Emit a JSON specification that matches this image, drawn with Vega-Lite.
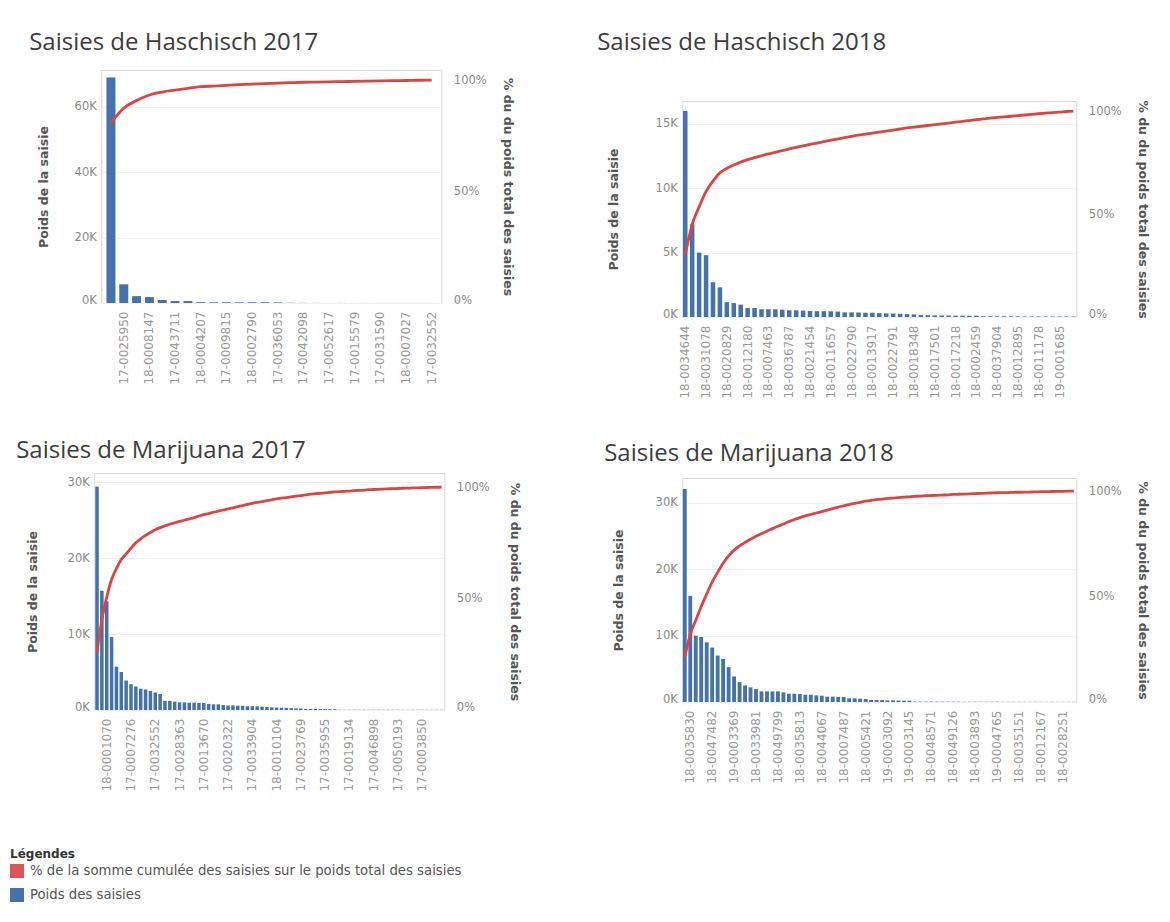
{
  "$schema": "https://vega.github.io/schema/vega-lite/v6.json",
  "background": "white",
  "padding": {"left": 10, "top": 29, "right": 10, "bottom": 10},
  "datasets": {
    "h17": [
      {"id":"H17-01","poids":69000,"pct":0.807},{"id":"17-0025950","poids":5700,"pct":0.874},{"id":"H17-03","poids":2100,"pct":0.908},{"id":"18-0008147","poids":1800,"pct":0.933},{"id":"H17-05","poids":900,"pct":0.946},{"id":"17-0043711","poids":600,"pct":0.955},{"id":"H17-07","poids":600,"pct":0.963},{"id":"18-0004207","poids":250,"pct":0.970},{"id":"H17-09","poids":200,"pct":0.973},{"id":"17-0009815","poids":200,"pct":0.976},{"id":"H17-11","poids":200,"pct":0.979},{"id":"18-0002790","poids":200,"pct":0.982},{"id":"H17-13","poids":200,"pct":0.984},{"id":"17-0036053","poids":180,"pct":0.986},{"id":"H17-15","poids":40,"pct":0.988},{"id":"17-0042098","poids":40,"pct":0.990},{"id":"H17-17","poids":30,"pct":0.991},{"id":"17-0052617","poids":30,"pct":0.992},{"id":"H17-19","poids":30,"pct":0.993},{"id":"17-0015579","poids":30,"pct":0.994},{"id":"H17-21","poids":20,"pct":0.995},{"id":"17-0031590","poids":20,"pct":0.996},{"id":"H17-23","poids":20,"pct":0.997},{"id":"18-0007027","poids":20,"pct":0.998},{"id":"H17-25","poids":20,"pct":0.999},{"id":"17-0032552","poids":20,"pct":1.0}
    ],
    "h18": [
      {"id":"18-0034644","poids":16000,"pct":0.303},{"id":"H18-02","poids":7200,"pct":0.450},{"id":"H18-03","poids":5000,"pct":0.535},{"id":"18-0031078","poids":4800,"pct":0.610},{"id":"H18-05","poids":2700,"pct":0.660},{"id":"H18-06","poids":2300,"pct":0.700},{"id":"18-0020829","poids":1150,"pct":0.722},{"id":"H18-08","poids":1080,"pct":0.738},{"id":"H18-09","poids":960,"pct":0.752},{"id":"18-0012180","poids":700,"pct":0.764},{"id":"H18-11","poids":700,"pct":0.774},{"id":"H18-12","poids":600,"pct":0.783},{"id":"18-0007463","poids":600,"pct":0.792},{"id":"H18-14","poids":600,"pct":0.800},{"id":"H18-15","poids":570,"pct":0.808},{"id":"18-0036787","poids":520,"pct":0.816},{"id":"H18-17","poids":520,"pct":0.824},{"id":"H18-18","poids":500,"pct":0.831},{"id":"18-0021454","poids":470,"pct":0.838},{"id":"H18-20","poids":450,"pct":0.845},{"id":"H18-21","poids":450,"pct":0.852},{"id":"18-0011657","poids":440,"pct":0.859},{"id":"H18-23","poids":420,"pct":0.865},{"id":"H18-24","poids":360,"pct":0.871},{"id":"18-0022790","poids":360,"pct":0.877},{"id":"H18-26","poids":350,"pct":0.883},{"id":"H18-27","poids":330,"pct":0.888},{"id":"18-0013917","poids":330,"pct":0.893},{"id":"H18-29","poids":300,"pct":0.898},{"id":"H18-30","poids":280,"pct":0.903},{"id":"18-0022791","poids":270,"pct":0.908},{"id":"H18-32","poids":250,"pct":0.913},{"id":"H18-33","poids":220,"pct":0.918},{"id":"18-0018348","poids":200,"pct":0.922},{"id":"H18-35","poids":150,"pct":0.926},{"id":"H18-36","poids":140,"pct":0.930},{"id":"18-0017501","poids":130,"pct":0.934},{"id":"H18-38","poids":120,"pct":0.938},{"id":"H18-39","poids":120,"pct":0.942},{"id":"18-0017218","poids":110,"pct":0.946},{"id":"H18-41","poids":100,"pct":0.950},{"id":"H18-42","poids":100,"pct":0.954},{"id":"18-0002459","poids":100,"pct":0.958},{"id":"H18-44","poids":60,"pct":0.962},{"id":"H18-45","poids":60,"pct":0.966},{"id":"18-0037904","poids":50,"pct":0.969},{"id":"H18-47","poids":50,"pct":0.972},{"id":"H18-48","poids":50,"pct":0.975},{"id":"18-0012895","poids":50,"pct":0.978},{"id":"H18-50","poids":40,"pct":0.981},{"id":"H18-51","poids":40,"pct":0.984},{"id":"18-0011178","poids":40,"pct":0.987},{"id":"H18-53","poids":40,"pct":0.990},{"id":"H18-54","poids":40,"pct":0.993},{"id":"19-0001685","poids":40,"pct":0.995},{"id":"H18-56","poids":40,"pct":0.998},{"id":"H18-57","poids":40,"pct":1.0}
    ],
    "m17": [
      {"id":"M17-01","poids":29400,"pct":0.260},{"id":"M17-02","poids":15700,"pct":0.405},{"id":"18-0001070","poids":14300,"pct":0.506},{"id":"M17-04","poids":9600,"pct":0.585},{"id":"M17-05","poids":5700,"pct":0.635},{"id":"M17-06","poids":5000,"pct":0.675},{"id":"M17-07","poids":3900,"pct":0.700},{"id":"17-0007276","poids":3400,"pct":0.726},{"id":"M17-09","poids":3100,"pct":0.750},{"id":"M17-10","poids":2800,"pct":0.768},{"id":"M17-11","poids":2700,"pct":0.783},{"id":"M17-12","poids":2500,"pct":0.796},{"id":"17-0032552","poids":2300,"pct":0.808},{"id":"M17-14","poids":2100,"pct":0.818},{"id":"M17-15","poids":1200,"pct":0.826},{"id":"M17-16","poids":1200,"pct":0.833},{"id":"M17-17","poids":1100,"pct":0.840},{"id":"17-0028363","poids":1000,"pct":0.846},{"id":"M17-19","poids":1000,"pct":0.851},{"id":"M17-20","poids":960,"pct":0.857},{"id":"M17-21","poids":960,"pct":0.863},{"id":"M17-22","poids":920,"pct":0.870},{"id":"17-0013670","poids":920,"pct":0.876},{"id":"M17-24","poids":800,"pct":0.881},{"id":"M17-25","poids":750,"pct":0.887},{"id":"M17-26","poids":750,"pct":0.892},{"id":"M17-27","poids":650,"pct":0.897},{"id":"17-0020322","poids":600,"pct":0.902},{"id":"M17-29","poids":600,"pct":0.907},{"id":"M17-30","poids":570,"pct":0.912},{"id":"M17-31","poids":550,"pct":0.917},{"id":"M17-32","poids":500,"pct":0.922},{"id":"17-0033904","poids":500,"pct":0.927},{"id":"M17-34","poids":480,"pct":0.931},{"id":"M17-35","poids":440,"pct":0.935},{"id":"M17-36","poids":400,"pct":0.939},{"id":"M17-37","poids":350,"pct":0.943},{"id":"18-0010104","poids":320,"pct":0.947},{"id":"M17-39","poids":300,"pct":0.950},{"id":"M17-40","poids":280,"pct":0.953},{"id":"M17-41","poids":250,"pct":0.956},{"id":"M17-42","poids":220,"pct":0.959},{"id":"17-0023769","poids":200,"pct":0.962},{"id":"M17-44","poids":150,"pct":0.965},{"id":"M17-45","poids":140,"pct":0.968},{"id":"M17-46","poids":130,"pct":0.970},{"id":"M17-47","poids":120,"pct":0.972},{"id":"17-0035955","poids":120,"pct":0.974},{"id":"M17-49","poids":110,"pct":0.976},{"id":"M17-50","poids":100,"pct":0.978},{"id":"M17-51","poids":30,"pct":0.979},{"id":"M17-52","poids":30,"pct":0.981},{"id":"17-0019134","poids":30,"pct":0.982},{"id":"M17-54","poids":30,"pct":0.984},{"id":"M17-55","poids":30,"pct":0.985},{"id":"M17-56","poids":30,"pct":0.986},{"id":"M17-57","poids":30,"pct":0.988},{"id":"17-0046898","poids":30,"pct":0.989},{"id":"M17-59","poids":30,"pct":0.990},{"id":"M17-60","poids":30,"pct":0.991},{"id":"M17-61","poids":30,"pct":0.992},{"id":"M17-62","poids":30,"pct":0.993},{"id":"17-0050193","poids":30,"pct":0.9935},{"id":"M17-64","poids":30,"pct":0.9945},{"id":"M17-65","poids":30,"pct":0.995},{"id":"M17-66","poids":30,"pct":0.996},{"id":"M17-67","poids":30,"pct":0.9965},{"id":"17-0003850","poids":30,"pct":0.997},{"id":"M17-69","poids":30,"pct":0.998},{"id":"M17-70","poids":30,"pct":0.9985},{"id":"M17-71","poids":30,"pct":0.999},{"id":"M17-72","poids":30,"pct":1.0}
    ],
    "m18": [
      {"id":"M18-01","poids":32100,"pct":0.213},{"id":"18-0035830","poids":16000,"pct":0.320},{"id":"M18-03","poids":10000,"pct":0.388},{"id":"M18-04","poids":9800,"pct":0.453},{"id":"M18-05","poids":9000,"pct":0.512},{"id":"18-0047482","poids":8200,"pct":0.568},{"id":"M18-07","poids":7000,"pct":0.615},{"id":"M18-08","poids":6500,"pct":0.658},{"id":"M18-09","poids":5250,"pct":0.693},{"id":"19-0003369","poids":3850,"pct":0.720},{"id":"M18-11","poids":3000,"pct":0.740},{"id":"M18-12","poids":2500,"pct":0.757},{"id":"M18-13","poids":2200,"pct":0.772},{"id":"18-0033981","poids":1950,"pct":0.786},{"id":"M18-15","poids":1600,"pct":0.798},{"id":"M18-16","poids":1600,"pct":0.810},{"id":"M18-17","poids":1600,"pct":0.822},{"id":"18-0049799","poids":1600,"pct":0.833},{"id":"M18-19","poids":1450,"pct":0.844},{"id":"M18-20","poids":1250,"pct":0.855},{"id":"M18-21","poids":1250,"pct":0.865},{"id":"18-0035813","poids":1200,"pct":0.874},{"id":"M18-23","poids":1100,"pct":0.882},{"id":"M18-24","poids":1100,"pct":0.889},{"id":"M18-25","poids":1000,"pct":0.896},{"id":"18-0044067","poids":950,"pct":0.903},{"id":"M18-27","poids":800,"pct":0.910},{"id":"M18-28","poids":800,"pct":0.917},{"id":"M18-29","poids":750,"pct":0.924},{"id":"18-0007487","poids":750,"pct":0.930},{"id":"M18-31","poids":550,"pct":0.936},{"id":"M18-32","poids":550,"pct":0.942},{"id":"M18-33","poids":500,"pct":0.947},{"id":"18-0005421","poids":450,"pct":0.952},{"id":"M18-35","poids":300,"pct":0.956},{"id":"M18-36","poids":300,"pct":0.959},{"id":"M18-37","poids":280,"pct":0.962},{"id":"19-0003092","poids":250,"pct":0.965},{"id":"M18-39","poids":250,"pct":0.967},{"id":"M18-40","poids":220,"pct":0.969},{"id":"M18-41","poids":200,"pct":0.971},{"id":"19-0003145","poids":200,"pct":0.973},{"id":"M18-43","poids":60,"pct":0.975},{"id":"M18-44","poids":60,"pct":0.976},{"id":"M18-45","poids":60,"pct":0.978},{"id":"18-0048571","poids":60,"pct":0.979},{"id":"M18-47","poids":50,"pct":0.980},{"id":"M18-48","poids":50,"pct":0.981},{"id":"M18-49","poids":50,"pct":0.982},{"id":"18-0049126","poids":50,"pct":0.984},{"id":"M18-51","poids":40,"pct":0.985},{"id":"M18-52","poids":40,"pct":0.986},{"id":"M18-53","poids":40,"pct":0.987},{"id":"18-0003893","poids":40,"pct":0.988},{"id":"M18-55","poids":40,"pct":0.989},{"id":"M18-56","poids":40,"pct":0.990},{"id":"M18-57","poids":40,"pct":0.991},{"id":"19-0004765","poids":40,"pct":0.992},{"id":"M18-59","poids":30,"pct":0.9925},{"id":"M18-60","poids":30,"pct":0.993},{"id":"M18-61","poids":30,"pct":0.994},{"id":"18-0035151","poids":30,"pct":0.9945},{"id":"M18-63","poids":30,"pct":0.995},{"id":"M18-64","poids":30,"pct":0.9955},{"id":"M18-65","poids":30,"pct":0.996},{"id":"18-0012167","poids":30,"pct":0.997},{"id":"M18-67","poids":30,"pct":0.9975},{"id":"M18-68","poids":30,"pct":0.998},{"id":"M18-69","poids":30,"pct":0.9985},{"id":"18-0028251","poids":30,"pct":0.999},{"id":"M18-71","poids":30,"pct":0.9995},{"id":"M18-72","poids":30,"pct":1.0}
    ]
  },
  "hconcat": [
    {
      "center": true,
      "spacing": 53,
      "vconcat": [
        {
          "spacing": 0,
          "vconcat": [
            {"width": 1, "height": 1, "data": {"values": []}, "mark": {"type": "point", "opacity": 0}, "encoding": {}, "view": {"stroke": null}},
            {
              "width": 340, "height": 233,
              "title": {"text": "Saisies de Haschisch 2017", "offset": 15, "dx": -8},
              "data": {"name": "h17"},
              "encoding": {"x": {"field": "id", "type": "nominal", "sort": null, "scale": {"paddingInner": 0.3, "paddingOuter": 0.4},
                "axis": {"title": null, "labelAngle": -90, "labelPadding": 8, "labelFontSize": 12, "labelColor": "#9a9a9a", "grid": false,
                  "values": ["17-0025950","18-0008147","17-0043711","18-0004207","17-0009815","18-0002790","17-0036053","17-0042098","17-0052617","17-0015579","17-0031590","18-0007027","17-0032552"]}}},
              "layer": [
                {"mark": {"type": "bar"},
                 "encoding": {
                   "y": {"field": "poids", "type": "quantitative", "scale": {"domain": [0, 71300], "nice": false},
                     "axis": {"title": "Poids de la saisie", "values": [0, 20000, 40000, 60000], "labelExpr": "format(datum.value/1000,'d')+'K'", "labelFlush": true, "labelFlushOffset": 2, "labelPadding": 5, "titlePadding": 24, "grid": true}},
                   "color": {"datum": "Poids des saisies", "type": "nominal",
                     "scale": {"domain": ["% de la somme cumulée des saisies sur le poids total des saisies", "Poids des saisies"], "range": ["#e05454", "#4472aa"]},
                     "legend": {"title": "Légendes", "orient": "none", "legendX": -84, "legendY": 820}}}},
                {"mark": {"type": "line", "color": "#dd4444", "strokeWidth": 2.8, "interpolate": "monotone"},
                 "encoding": {
                   "y": {"field": "pct", "type": "quantitative", "scale": {"domain": [0, 1.045], "nice": false},
                     "axis": {"orient": "right", "title": "% du du poids total des saisies", "values": [0, 0.5, 1], "format": ".0%", "labelFlush": true, "labelFlushOffset": 2, "labelPadding": 12, "titlePadding": 14, "grid": false}}}}
              ],
              "resolve": {"scale": {"y": "independent"}}
            }
          ]
        },
        {
          "width": 350, "height": 237,
          "title": {"text": "Saisies de Marijuana 2017", "offset": 10, "dx": -10},
          "data": {"name": "m17"},
          "encoding": {"x": {"field": "id", "type": "nominal", "sort": null, "scale": {"paddingInner": 0.28, "paddingOuter": 0.2},
            "axis": {"title": null, "labelAngle": -90, "labelPadding": 8, "labelFontSize": 12, "labelColor": "#9a9a9a", "grid": false,
              "values": ["18-0001070","17-0007276","17-0032552","17-0028363","17-0013670","17-0020322","17-0033904","18-0010104","17-0023769","17-0035955","17-0019134","17-0046898","17-0050193","17-0003850"]}}},
          "layer": [
            {"mark": {"type": "bar"},
             "encoding": {
               "y": {"field": "poids", "type": "quantitative", "scale": {"domain": [0, 31200], "nice": false},
                 "axis": {"title": "Poids de la saisie", "values": [0, 10000, 20000, 30000], "labelExpr": "format(datum.value/1000,'d')+'K'", "labelFlush": true, "labelFlushOffset": 2, "labelPadding": 5, "titlePadding": 28, "grid": true}},
               "color": {"datum": "Poids des saisies", "type": "nominal"}}},
            {"mark": {"type": "line", "color": "#dd4444", "strokeWidth": 2.8, "interpolate": "monotone"},
             "encoding": {
               "y": {"field": "pct", "type": "quantitative", "scale": {"domain": [0, 1.063], "nice": false},
                 "axis": {"orient": "right", "title": "% du du poids total des saisies", "values": [0, 0.5, 1], "format": ".0%", "labelFlush": true, "labelFlushOffset": 2, "labelPadding": 12, "titlePadding": 18, "grid": false}}}}
          ],
          "resolve": {"scale": {"y": "independent"}}
        }
      ]
    },
    {
      "center": true,
      "spacing": 42,
      "vconcat": [
        {
          "spacing": 0,
          "vconcat": [
            {"width": 1, "height": 1, "data": {"values": []}, "mark": {"type": "point", "opacity": 0}, "encoding": {}, "view": {"stroke": null}},
            {
              "width": 394, "height": 216,
              "title": {"text": "Saisies de Haschisch 2018", "offset": 45, "dx": -10},
              "data": {"name": "h18"},
              "encoding": {"x": {"field": "id", "type": "nominal", "sort": null, "scale": {"paddingInner": 0.35, "paddingOuter": 0.1},
                "axis": {"title": null, "labelAngle": -90, "labelPadding": 8, "labelFontSize": 12, "labelColor": "#9a9a9a", "grid": false,
                  "values": ["18-0034644","18-0031078","18-0020829","18-0012180","18-0007463","18-0036787","18-0021454","18-0011657","18-0022790","18-0013917","18-0022791","18-0018348","18-0017501","18-0017218","18-0002459","18-0037904","18-0012895","18-0011178","19-0001685"]}}},
              "layer": [
                {"mark": {"type": "bar"},
                 "encoding": {
                   "y": {"field": "poids", "type": "quantitative", "scale": {"domain": [0, 16770], "nice": false},
                     "axis": {"title": "Poids de la saisie", "values": [0, 5000, 10000, 15000], "labelExpr": "format(datum.value/1000,'d')+'K'", "labelFlush": true, "labelFlushOffset": 2, "labelPadding": 5, "titlePadding": 35, "grid": true}},
                   "color": {"datum": "Poids des saisies", "type": "nominal"}}},
                {"mark": {"type": "line", "color": "#dd4444", "strokeWidth": 2.8, "interpolate": "monotone"},
                 "encoding": {
                   "y": {"field": "pct", "type": "quantitative", "scale": {"domain": [0, 1.049], "nice": false},
                     "axis": {"orient": "right", "title": "% du du poids total des saisies", "values": [0, 0.5, 1], "format": ".0%", "labelFlush": true, "labelFlushOffset": 2, "labelPadding": 12, "titlePadding": 14, "grid": false}}}}
              ],
              "resolve": {"scale": {"y": "independent"}}
            }
          ]
        },
        {
          "width": 394, "height": 224,
          "title": {"text": "Saisies de Marijuana 2018", "offset": 12, "dx": -8},
          "data": {"name": "m18"},
          "encoding": {"x": {"field": "id", "type": "nominal", "sort": null, "scale": {"paddingInner": 0.3, "paddingOuter": 0.1},
            "axis": {"title": null, "labelAngle": -90, "labelPadding": 8, "labelFontSize": 12, "labelColor": "#9a9a9a", "grid": false,
              "values": ["18-0035830","18-0047482","19-0003369","18-0033981","18-0049799","18-0035813","18-0044067","18-0007487","18-0005421","19-0003092","19-0003145","18-0048571","18-0049126","18-0003893","19-0004765","18-0035151","18-0012167","18-0028251"]}}},
          "layer": [
            {"mark": {"type": "bar"},
             "encoding": {
               "y": {"field": "poids", "type": "quantitative", "scale": {"domain": [0, 33760], "nice": false},
                 "axis": {"title": "Poids de la saisie", "values": [0, 10000, 20000, 30000], "labelExpr": "format(datum.value/1000,'d')+'K'", "labelFlush": true, "labelFlushOffset": 2, "labelPadding": 5, "titlePadding": 30, "grid": true}},
               "color": {"datum": "Poids des saisies", "type": "nominal"}}},
            {"mark": {"type": "line", "color": "#dd4444", "strokeWidth": 2.8, "interpolate": "monotone"},
             "encoding": {
               "y": {"field": "pct", "type": "quantitative", "scale": {"domain": [0, 1.062], "nice": false},
                 "axis": {"orient": "right", "title": "% du du poids total des saisies", "values": [0, 0.5, 1], "format": ".0%", "labelFlush": true, "labelFlushOffset": 2, "labelPadding": 12, "titlePadding": 14, "grid": false}}}}
          ],
          "resolve": {"scale": {"y": "independent"}}
        }
      ]
    }
  ],
  "spacing": 75,
  "resolve": {"scale": {"color": "shared"}, "legend": {"color": "shared"}},
  "config": {
    "font": "DejaVu Sans",
    "view": {"stroke": "#dadada"},
    "axis": {"labelFont": "DejaVu Sans", "labelFontSize": 11.5, "labelColor": "#8a8a8a", "titleFont": "DejaVu Sans", "titleFontSize": 12.5, "titleFontWeight": "bold", "titleColor": "#555555", "ticks": false, "domain": false, "gridColor": "#f0f0f0"},
    "title": {"font": "Open Sans", "fontSize": 24, "fontWeight": "normal", "color": "#3c3c3c", "anchor": "start"},
    "legend": {"direction": "vertical", "titleFont": "DejaVu Sans", "titleFontSize": 12, "titleFontWeight": "bold", "titleColor": "#333333", "titlePadding": 3, "labelFont": "DejaVu Sans", "labelFontSize": 13.25, "labelColor": "#555555", "labelLimit": 0, "labelOffset": 6, "symbolType": "square", "symbolSize": 196, "symbolStrokeWidth": 0, "rowPadding": 10}
  }
}
